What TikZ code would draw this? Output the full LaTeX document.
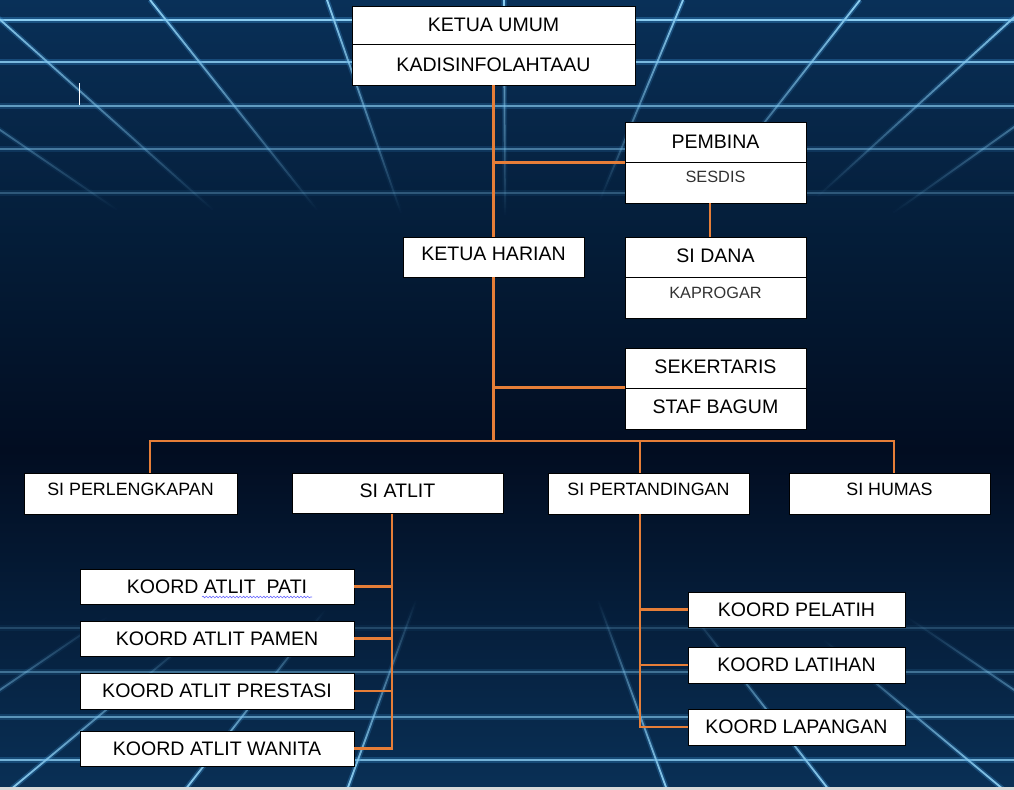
\documentclass[tikz,border=0pt]{standalone}
\usepackage{fontspec}
\setmainfont{Liberation Sans}
\usetikzlibrary{fadings,decorations.pathmorphing}

\definecolor{bgtop}{RGB}{9,48,88}
\definecolor{bgmid}{RGB}{4,28,55}
\definecolor{bgdark}{RGB}{2,13,33}
\definecolor{bgbot}{RGB}{9,48,86}
\definecolor{gridcore}{RGB}{140,205,240}
\definecolor{gridglow}{RGB}{60,150,215}
\definecolor{linkorange}{RGB}{230,126,56}

\newcommand{\px}{0.025cm}

\tikzfading[name=fadedown, top color=transparent!0, middle color=transparent!35, bottom color=transparent!100]
\tikzfading[name=fadeup, top color=transparent!100, middle color=transparent!45, bottom color=transparent!0]

\tikzset{
  box/.style={draw=black, line width=0.7pt, fill=white, inner sep=0pt, text=black,
    font=\fontsize{13.9}{16}\selectfont},
  smallbox/.style={box, font=\fontsize{12.7}{15}\selectfont},
  thinbox/.style={box, text=black!80, font=\fontsize{11.6}{14}\selectfont},
  link/.style={draw=linkorange, line width=2.1pt},
  glow/.style={draw=gridglow, line width=3.6pt, opacity=.35},
  grid/.style={draw=gridcore, line width=1.3pt}
}

\begin{document}
\begin{tikzpicture}[x=\px, y=-\px]
\useasboundingbox (0,0) rectangle (1014,790);

% background grid
\begin{scope}
\clip (0,0) rectangle (1014,790);
\shade[top color=bgtop, bottom color=bgmid] (0,0) rectangle (1014,251);
\shade[top color=bgmid, bottom color=bgdark] (0,250) rectangle (1014,451);
\shade[top color=bgdark, bottom color=bgbot] (0,450) rectangle (1014,790);
\foreach \y/\o in {20/1,62/.85,106/.65,149/.45,193/.28,628/.2,672/.4,717/.6,760/.8} {
  \pgfmathsetmacro\og{0.35*\o}
  \draw[glow, opacity=\og] (0,\y) -- (1014,\y);
  \draw[grid, opacity=\o] (0,\y) -- (1014,\y);
}
\foreach \xa/\ya/\xb/\yb in {327/0/401/213, 150/0/317/210, -22/0/213/210, -190/0/117/210,
    504/0/505/215, 683/0/600/200, 860/0/704/200, 1033/0/817/197, 1193/0/893/213} {
  \draw[glow, path fading=fadedown] (\xa,\ya) -- (\xb,\yb);
  \draw[grid, path fading=fadedown] (\xa,\ya) -- (\xb,\yb);
}
\foreach \xa/\ya/\xb/\yb in {667/790/598/600, 829/790/689/610, 1004/790/824/640, 1161/790/907/617,
    347/790/416/600, 185/790/325/610, 10/790/190/640, -147/790/107/617} {
  \draw[glow, path fading=fadeup] (\xa,\ya) -- (\xb,\yb);
  \draw[grid, path fading=fadeup] (\xa,\ya) -- (\xb,\yb);
}
\fill[black!15] (0,787) rectangle (1014,790);
\draw[white, line width=0.5pt] (79,83) -- (79,105);
\end{scope}

% top
\node[box, minimum width=283*\px, minimum height=38*\px] (umum) at (493.5,25) {KETUA UMUM};
\node[box, minimum width=283*\px, minimum height=41*\px] (kadis) at (493.5,64.5) {KADISINFOLAHTAAU};
\node[box, minimum width=181*\px, minimum height=40*\px] (pembina) at (715.5,142) {PEMBINA};
\node[thinbox, minimum width=181*\px, minimum height=41*\px, text depth=7.8pt] (sesdis) at (715.5,182.5) {SESDIS};
\node[box, minimum width=181*\px, minimum height=40*\px, text depth=2pt] (sidana) at (715.5,257) {SI DANA};
\node[thinbox, minimum width=181*\px, minimum height=41*\px, text depth=6.4pt] (kaprogar) at (715.5,297.5) {KAPROGAR};
\node[box, minimum width=181*\px, minimum height=40*\px, text depth=4pt] (harian) at (493.5,257) {KETUA HARIAN};
\node[box, minimum width=181*\px, minimum height=40*\px, text depth=2pt] (sekertaris) at (715.5,368) {SEKERTARIS};
\node[box, minimum width=181*\px, minimum height=41*\px, text depth=3pt] (bagum) at (715.5,408.5) {STAF BAGUM};

% seksi
\node[smallbox, minimum width=213*\px, minimum height=41*\px, text depth=6.4pt] (perlengkapan) at (130.5,493.5) {SI PERLENGKAPAN};
\node[box, minimum width=211*\px, minimum height=40*\px, text depth=2.8pt] (atlit) at (397.5,493) {SI ATLIT};
\node[smallbox, minimum width=201*\px, minimum height=41*\px, text depth=6.4pt] (pertandingan) at (648.5,493.5) {SI PERTANDINGAN};
\node[smallbox, minimum width=201*\px, minimum height=41*\px, text depth=6.4pt] (humas) at (889.5,493.5) {SI HUMAS};

% koordinator
\node[box, minimum width=274*\px, minimum height=35*\px] (pati) at (217,586.5) {KOORD ATLIT\ \ PATI};
\node[box, minimum width=274*\px, minimum height=35*\px] (pamen) at (217,638.5) {KOORD ATLIT PAMEN};
\node[box, minimum width=274*\px, minimum height=36*\px] (prestasi) at (217,691) {KOORD ATLIT PRESTASI};
\node[box, minimum width=274*\px, minimum height=35*\px] (wanita) at (217,748.5) {KOORD ATLIT WANITA};
\node[box, minimum width=217*\px, minimum height=35*\px] (pelatih) at (796.5,609.5) {KOORD PELATIH};
\node[box, minimum width=217*\px, minimum height=36*\px] (latihan) at (796.5,665) {KOORD LATIHAN};
\node[box, minimum width=217*\px, minimum height=36*\px] (lapangan) at (796.5,727) {KOORD LAPANGAN};
\draw[blue!60!white, line width=0.4pt, decorate, decoration={snake, amplitude=0.6pt, segment length=2.4pt}]
  (202,597) -- (312,597);

% garis
\coordinate (bar) at (493.5,441);
\coordinate (aspine) at ([xshift=-5.5*\px]atlit.south);
\coordinate (pspine) at ([xshift=-8.5*\px]pertandingan.south);
\draw[link] (kadis.south) -- (harian.north);
\draw[link] (pembina.south west) -- (pembina.south west -| kadis.south);
\draw[link] ([xshift=-5.5*\px]sesdis.south) -- ([xshift=-5.5*\px]sidana.north);
\draw[link] (bagum.north west) -- (bagum.north west -| harian.south);
\draw[link] (harian.south) -- (bar);
\draw[link] ([xshift=19.5*\px]perlengkapan.north) |- (bar) -| ([xshift=4.5*\px]humas.north);
\draw[link] (bar -| pspine) -- ([xshift=-8.5*\px]pertandingan.north);
\draw[link] (aspine) |- (wanita.east);
\foreach \k in {pati,pamen,prestasi}
  \draw[link] (\k.east) -- (\k.east -| aspine);
\draw[link] (pspine) |- (lapangan.west);
\foreach \k in {pelatih,latihan}
  \draw[link] (\k.west) -- (\k.west -| pspine);
\end{tikzpicture}
\end{document}
